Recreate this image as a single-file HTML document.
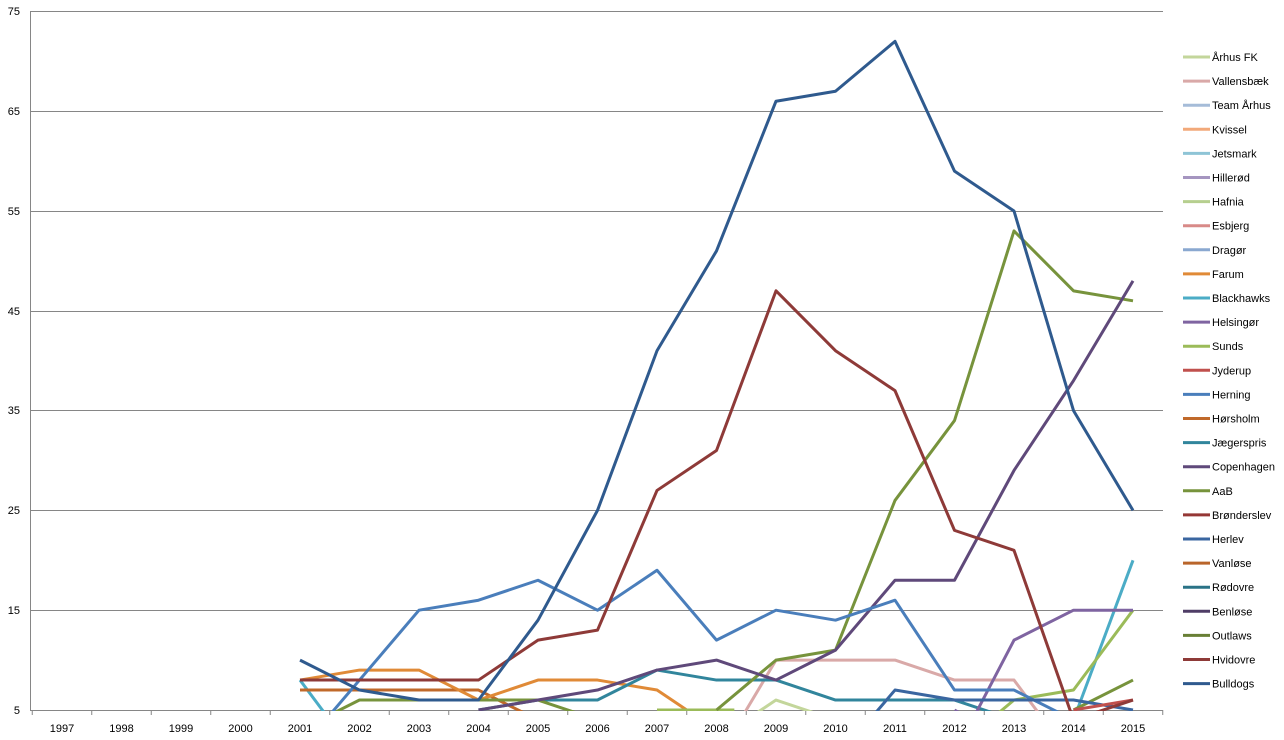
<!DOCTYPE html>
<html><head><meta charset="utf-8"><style>
body{margin:0;background:#fff;}
svg{display:block;font-family:"Liberation Sans",sans-serif;}
</style></head><body>
<svg width="1284" height="740" xmlns="http://www.w3.org/2000/svg">
<defs><clipPath id="c"><rect x="30" y="0" width="1135" height="711"/></clipPath></defs>
<g stroke="#868686" stroke-width="1">
<line x1="30" y1="11.5" x2="1163" y2="11.5"/>
<line x1="30" y1="111.5" x2="1163" y2="111.5"/>
<line x1="30" y1="211.5" x2="1163" y2="211.5"/>
<line x1="30" y1="311.5" x2="1163" y2="311.5"/>
<line x1="30" y1="410.5" x2="1163" y2="410.5"/>
<line x1="30" y1="510.5" x2="1163" y2="510.5"/>
<line x1="30" y1="610.5" x2="1163" y2="610.5"/>
<line x1="30" y1="710.5" x2="1163" y2="710.5"/>
<line x1="30.5" y1="11" x2="30.5" y2="710"/>
</g>
<g font-size="11" fill="#000" text-anchor="end">
<text x="20" y="15">75</text><text x="20" y="115">65</text><text x="20" y="215">55</text><text x="20" y="315">45</text><text x="20" y="414">35</text><text x="20" y="514">25</text><text x="20" y="614">15</text><text x="20" y="714">5</text>
</g>
<g font-size="11" text-anchor="middle" id="xl"></g>
<g clip-path="url(#c)" fill="none" stroke-width="3" stroke-linejoin="round" id="s"></g>
<g font-size="11" id="lg"></g>
</svg>
<script>
var X=y=>62+(y-1997)*59.5, Y=v=>710-(v-5)*9.98;
var ns="http://www.w3.org/2000/svg";
var xl=document.getElementById('xl');
var tk="";
for(var i=0;i<19;i++){tk+='<text x="'+X(1997+i)+'" y="732">'+(1997+i)+'</text>';}
for(var i=0;i<=19;i++){var xx=X(1997+i)-29.75;tk+='<line x1="'+xx+'" y1="710" x2="'+xx+'" y2="715" stroke="#868686"/>';}
xl.innerHTML=tk;
var S=[
["#4bacc6",[[2001,8],[2002,0]]],
["#4bacc6",[[2014,4],[2015,20]]],
["#c0692a",[[2001,7],[2002,7],[2003,7],[2004,7],[2005,4]]],
["#e08a37",[[2001,8],[2002,9],[2003,9],[2004,6],[2005,8],[2006,8],[2007,7],[2008,3]]],
["#9bbb59",[[2007,5],[2008,5],[2008.3,5]]],
["#9bbb59",[[2012.7,4.5],[2013,6],[2014,7],[2015,15]]],
["#c3d69b",[[2008.5,4],[2009,6],[2010,4]]],
["#d9a9a8",[[2008.4,4],[2009,10],[2010,10],[2011,10],[2012,8],[2013,8],[2014,0]]],
["#31859c",[[2004,5],[2005,6],[2006,6],[2007,9],[2008,8],[2009,8],[2010,6],[2011,6],[2012,6],[2013,4]]],
["#77933c",[[2001,3],[2002,6],[2003,6],[2004,6],[2005,6],[2006,4]]],
["#77933c",[[2008,5],[2009,10],[2010,11],[2011,26],[2012,34],[2013,53],[2014,47],[2015,46]]],
["#77933c",[[2014,5],[2015,8]]],
["#7f64a1",[[2012,5],[2012.3,4],[2013,12],[2014,15],[2015,15]]],
["#5f497a",[[2004,5],[2005,6],[2006,7],[2007,9],[2008,10],[2009,8],[2010,11],[2011,18],[2012,18],[2013,29],[2014,38],[2015,48]]],
["#4a7ebb",[[2001,1],[2002,8],[2003,15],[2004,16],[2005,18],[2006,15],[2007,19],[2008,12],[2009,15],[2010,14],[2011,16],[2012,7],[2013,7],[2014,4]]],
["#3a66a0",[[2010,0],[2011,7],[2012,6],[2013,6],[2014,6],[2015,5]]],
["#c0504d",[[2014,5],[2015,6]]],
["#8e3a38",[[2001,8],[2002,8],[2003,8],[2004,8],[2005,12],[2006,13],[2007,27],[2008,31],[2009,47],[2010,41],[2011,37],[2012,23],[2013,21],[2014,4],[2015,6]]],
["#2f5a8e",[[2001,10],[2002,7],[2003,6],[2004,6],[2005,14],[2006,25],[2007,41],[2008,51],[2009,66],[2010,67],[2011,72],[2012,59],[2013,55],[2014,35],[2015,25]]]
];
var s="";
S.forEach(function(a){s+='<polyline stroke="'+a[0]+'" points="'+a[1].map(p=>X(p[0])+','+Y(p[1])).join(' ')+'"/>';});
document.getElementById('s').innerHTML=s;
var L=[["Århus FK","#c3d69b"],["Vallensbæk","#d9a9a8"],["Team Århus","#a5bcd8"],["Kvissel","#f2a97a"],["Jetsmark","#8ec4d6"],["Hillerød","#a595c0"],["Hafnia","#b6cf8f"],["Esbjerg","#d88a88"],["Dragør","#8aa8d0"],["Farum","#e08a37"],["Blackhawks","#4bacc6"],["Helsingør","#7f64a1"],["Sunds","#9bbb59"],["Jyderup","#c0504d"],["Herning","#4a7ebb"],["Hørsholm","#c0692a"],["Jægerspris","#31859c"],["Copenhagen","#5f497a"],["AaB","#77933c"],["Brønderslev","#953735"],["Herlev","#3a66a0"],["Vanløse","#b9652a"],["Rødovre","#2a7387"],["Benløse","#4f3d66"],["Outlaws","#687f35"],["Hvidovre","#8e3a38"],["Bulldogs","#2f5a8e"]];
var g="";
L.forEach(function(l,i){var yy=57+i*24.1;g+='<line x1="1183" y1="'+yy+'" x2="1210" y2="'+yy+'" stroke="'+l[1]+'" stroke-width="3"/><text x="1212" y="'+(yy+4)+'">'+l[0]+'</text>';});
document.getElementById('lg').innerHTML=g;
</script>
</body></html>
